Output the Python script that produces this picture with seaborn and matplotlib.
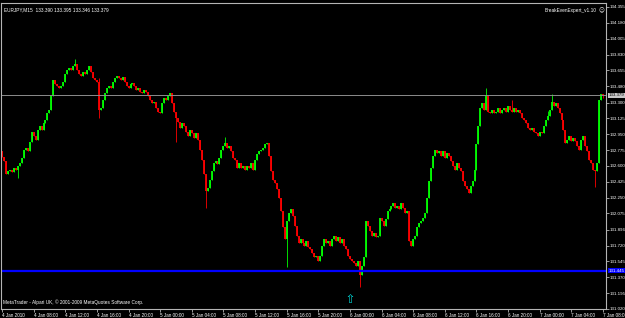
import matplotlib
matplotlib.use("Agg")
import matplotlib.pyplot as plt
import numpy as np
import pandas as pd
import seaborn as sns

# ---------------- data (EURJPY, M15) ----------------
first_open = 132.76
close = [
    132.70, 132.65, 132.51, 132.54, 132.56, 132.53, 132.58, 132.56, 132.60, 132.63,
    132.69, 132.78, 132.80, 132.76, 132.86, 132.98, 132.93, 132.89, 133.00, 133.04,
    133.00, 133.07, 133.11, 133.18, 133.22, 133.37, 133.55, 133.51, 133.48, 133.46,
    133.48, 133.53, 133.61, 133.66, 133.68, 133.66, 133.70, 133.73, 133.66, 133.62,
    133.59, 133.64, 133.62, 133.66, 133.70, 133.64, 133.57, 133.55, 133.53, 133.22,
    133.24, 133.33, 133.40, 133.46, 133.48, 133.46, 133.53, 133.57, 133.59, 133.57,
    133.55, 133.58, 133.53, 133.48, 133.46, 133.50, 133.52, 133.48, 133.44, 133.46,
    133.42, 133.40, 133.44, 133.42, 133.37, 133.33, 133.29, 133.31, 133.24, 133.20,
    133.18, 133.29, 133.35, 133.33, 133.37, 133.40, 133.29, 133.20, 133.13, 133.09,
    133.02, 133.07, 133.04, 132.98, 132.93, 133.00, 132.96, 132.91, 132.96, 132.89,
    132.78, 132.67, 132.51, 132.32, 132.36, 132.45, 132.54, 132.63, 132.65, 132.62,
    132.69, 132.78, 132.82, 132.85, 132.80, 132.82, 132.76, 132.69, 132.67, 132.58,
    132.63, 132.58, 132.60, 132.56, 132.60, 132.58, 132.63, 132.56, 132.67, 132.73,
    132.76, 132.78, 132.80, 132.84, 132.85, 132.71, 132.54, 132.45, 132.41, 132.34,
    132.25, 132.10, 131.92, 131.79, 131.99, 132.08, 132.12, 132.05, 131.94, 131.83,
    131.75, 131.79, 131.75, 131.72, 131.77, 131.70, 131.68, 131.64, 131.59, 131.61,
    131.55, 131.61, 131.72, 131.79, 131.75, 131.77, 131.72, 131.79, 131.83, 131.77,
    131.81, 131.75, 131.79, 131.72, 131.68, 131.61, 131.57, 131.55, 131.53, 131.50,
    131.55, 131.39, 131.50, 131.59, 131.99, 131.94, 131.88, 131.83, 131.86, 131.81,
    131.83, 132.03, 131.99, 131.94, 132.01, 132.10, 132.12, 132.16, 132.19, 132.14,
    132.16, 132.12, 132.19, 132.14, 132.08, 132.10, 131.77, 131.72, 131.79, 131.83,
    131.92, 131.97, 131.99, 132.03, 132.08, 132.25, 132.43, 132.58, 132.71, 132.78,
    132.74, 132.76, 132.71, 132.76, 132.69, 132.74, 132.71, 132.65, 132.60, 132.56,
    132.63, 132.58, 132.54, 132.43, 132.38, 132.34, 132.30, 132.38, 132.43, 132.56,
    132.84, 133.04, 133.24, 133.29, 133.22, 133.37, 133.20, 133.18, 133.22, 133.18,
    133.20, 133.24, 133.18, 133.22, 133.24, 133.20, 133.26, 133.22, 133.20, 133.24,
    133.20, 133.22, 133.18, 133.13, 133.11, 133.07, 133.02, 133.00, 133.02, 132.98,
    132.96, 132.93, 132.98, 132.96, 133.04, 133.11, 133.15, 133.22, 133.31, 133.26,
    133.29, 133.24, 133.18, 133.11, 133.00, 132.85, 132.89, 132.93, 132.87, 132.91,
    132.87, 132.82, 132.78, 132.89, 132.93, 132.82, 132.76, 132.67, 132.63, 132.56,
    132.54, 132.63, 133.33, 133.39, 133.379,
]
last_open = 133.390
high_wicks = {37: 133.78, 49: 133.57, 88: 133.20, 113: 132.92, 245: 133.46,
              258: 133.33, 276: 133.21, 278: 133.39, 304: 133.395}
low_wicks = {8: 132.47, 49: 133.13, 88: 132.86, 103: 132.14, 144: 131.48,
             181: 131.26, 300: 132.37, 304: 133.346}

x_tick_labels = ["4 Jan 2010", "4 Jan 08:00", "4 Jan 12:00", "4 Jan 16:00", "4 Jan 20:00",
                 "5 Jan 00:00", "5 Jan 04:00", "5 Jan 08:00", "5 Jan 12:00", "5 Jan 16:00",
                 "5 Jan 20:00", "6 Jan 00:00", "6 Jan 04:00", "6 Jan 08:00", "6 Jan 12:00",
                 "6 Jan 16:00", "6 Jan 20:00", "7 Jan 00:00", "7 Jan 04:00", "7 Jan 08:00"]
bars_per_label = 16
y_tick_labels = ["134.355", "134.180", "134.005", "133.830", "133.655", "133.480", "133.300",
                 "133.125", "132.950", "132.775", "132.600", "132.425", "132.250", "132.075",
                 "131.896", "131.720", "131.545", "131.370", "131.195", "131.020"]
bid_price = 133.379
level_price = 131.445
arrow_bar = 176
arrow_price = 131.14
symbol_text = "EURJPY,M15  133.390 133.395 133.346 133.379"
expert_text = "BreakEvenExpert_v1.10"
footer_text = "MetaTrader - Alpari UK, \u00A9 2001-2009 MetaQuotes Software Corp."

# ---------------- build table ----------------
n = len(close)
opens = [first_open] + close[:-1]
opens[-1] = last_open
df = pd.DataFrame({"bar": np.arange(n), "open": opens, "close": close})
df["top"] = df[["open", "close"]].max(axis=1)
df["bot"] = df[["open", "close"]].min(axis=1)
df["high"] = [max(t, high_wicks.get(i, t)) for i, t in enumerate(df["top"])]
df["low"] = [min(b, low_wicks.get(i, b)) for i, b in enumerate(df["bot"])]
df["dir"] = np.where(df["close"] >= df["open"], "up", "down")

# ---------------- figure ----------------
sns.set_theme(style="dark")
plt.rcParams["font.family"] = ["Liberation Sans", "DejaVu Sans"]
W, H = 625, 318
fig = plt.figure(figsize=(W / 100, H / 100), dpi=100, facecolor="black")
ax = fig.add_axes([1 / W, 9 / H, 605 / W, 306 / H])
ax.set_facecolor("black")

palette = {"up": "#00ff00", "down": "#ff0000"}
for d, g in df.groupby("dir"):
    ax.vlines(g["bar"], g["low"], g["high"], colors=palette[d], linewidth=0.6)
    bot = g["bot"].to_numpy()
    top = np.maximum(g["top"].to_numpy(), bot + 0.006)
    ax.vlines(g["bar"], bot, top, colors=palette[d], linewidth=1.3)

# horizontal levels
ax.axhline(bid_price, color="#8c8c8c", linewidth=0.7)
ax.axhline(level_price, color="#0000ff", linewidth=1.6)

# arrow marker via seaborn
sns.scatterplot(x=[arrow_bar], y=[arrow_price], ax=ax, marker="$\u21E7$", s=40,
                color="#00e0e0", linewidth=0, legend=False)

ax.set_xlim(-0.5, 305.5)
ax.set_ylim(131.020, 134.399)

# axes styling
for s in ax.spines.values():
    s.set_color("#b4b4b4")
    s.set_linewidth(0.8)
    s.set_visible(True)
ax.grid(False)
ax.yaxis.tick_right()
yt = [float(v) for v in y_tick_labels]
ax.set_yticks(yt)
ax.set_yticklabels(y_tick_labels)
xt = [i * bars_per_label for i in range(len(x_tick_labels))]
ax.set_xticks(xt)
ax.set_xticklabels(x_tick_labels, ha="left")
ax.tick_params(axis="y", which="both", right=True, left=False, length=1.8, width=0.6,
               color="#b4b4b4", labelcolor="white", labelsize=3.2, pad=0.6,
               direction="out")
ax.tick_params(axis="x", which="both", bottom=True, length=2.5, width=0.6,
               color="#b4b4b4", labelcolor="white", labelsize=3.3, pad=0.3,
               direction="out")
for lab in ax.get_xticklabels():
    lab.set_horizontalalignment("left")

# price boxes on the right axis
ax.text(1.004, bid_price, f"{bid_price:.3f}", transform=ax.get_yaxis_transform(),
        fontsize=3.2, color="black", va="center", ha="left",
        bbox=dict(boxstyle="square,pad=0.15", fc="#c8c8c8", ec="none"))
ax.text(1.004, level_price, f"{level_price:.3f}", transform=ax.get_yaxis_transform(),
        fontsize=3.2, color="white", va="center", ha="left",
        bbox=dict(boxstyle="square,pad=0.15", fc="#0000ff", ec="none"))

# texts
ax.text(0.005, 0.985, symbol_text, transform=ax.transAxes, fontsize=3.4, color="white",
        va="top", ha="left")
ax.text(0.985, 0.985, expert_text, transform=ax.transAxes, fontsize=3.4, color="white",
        va="top", ha="right")
ax.text(0.997, 0.985, "\u263A", transform=ax.transAxes, fontsize=4.0, color="white",
        va="top", ha="right", family="DejaVu Sans")
ax.text(0.004, 0.012, footer_text, transform=ax.transAxes, fontsize=3.4, color="white",
        va="bottom", ha="left")

fig.savefig("out.png", dpi=100, facecolor="black")
